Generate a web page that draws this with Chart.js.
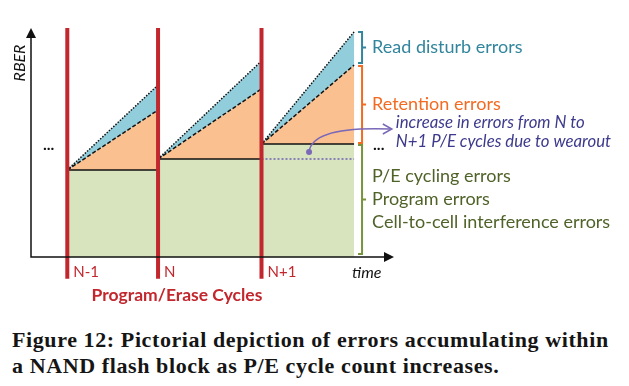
<!DOCTYPE html>
<html>
<head>
<meta charset="utf-8">
<script src="https://cdn.jsdelivr.net/npm/chart.js@4"></script>
<style>
  body { margin: 0; background: #fff; width: 629px; height: 386px; overflow: hidden; position: relative; }
  #chart { position: absolute; left: 0; top: 0; }
  .caption {
    position: absolute; left: 12px; top: 327px;
    font: bold 22px "Liberation Serif", serif; line-height: 26px; letter-spacing: 0.6px;
    color: #151515; white-space: nowrap;
  }
</style>
</head>
<body>
<canvas id="chart" width="629" height="315"></canvas>
<div class="caption">Figure 12: Pictorial depiction of errors accumulating within<br>a NAND flash block as P/E cycle count increases.</div>
<script>
// P/E cycle boundaries on the time axis
const cycleLabels = ['N-1', 'N', 'N+1'];
const cycleStart = [1.0, 3.5, 6.35];
const cycleEnd = [3.5, 6.35, 8.9];

// RBER levels (arbitrary units) per cycle
const baseErrors = [3.8, 4.28, 4.93];      // P/E cycling + program + cell-to-cell
const retentionTop = [6.42, 7.34, 8.38];   // + retention at end of cycle
const readDisturbTop = [7.51, 8.56, 9.83]; // + read disturb at end of cycle

const redLineRange = [-0.95, 10];
const wearoutDot = { x: 7.66, y: 4.59 };
const wearoutArrowEnd = { x: 9.94, y: 5.59 };
const bracketX = 9.12;

const RED = '#c1272d';
const datasets = [];

// red P/E cycle markers (on top)
cycleStart.forEach(x => {
  datasets.push({
    data: [{ x: x, y: redLineRange[0] }, { x: x, y: redLineRange[1] }],
    borderColor: RED, borderWidth: 4, clip: false, order: 0
  });
});

// wearout reference: previous cycle level carried into the last cycle
datasets.push({
  data: [{ x: cycleStart[2], y: baseErrors[1] }, { x: cycleEnd[2], y: baseErrors[1] }],
  borderColor: '#7060b4', borderWidth: 1.5, borderDash: [2, 2], order: 1
});

cycleStart.forEach((x0, i) => {
  const x1 = cycleEnd[i];
  // dotted read disturb edge
  datasets.push({
    data: [{ x: x0, y: baseErrors[i] }, { x: x1, y: readDisturbTop[i] }],
    borderColor: '#111', borderWidth: 1.5, borderDash: [1.5, 1.5], order: 2
  });
  // dashed retention edge
  datasets.push({
    data: [{ x: x0, y: baseErrors[i] }, { x: x1, y: retentionTop[i] }],
    borderColor: '#111', borderWidth: 1.5, borderDash: [4, 2], order: 2
  });
  // read disturb area
  datasets.push({
    data: [{ x: x0, y: baseErrors[i] }, { x: x1, y: readDisturbTop[i] }, { x: x1, y: retentionTop[i] }, { x: x0, y: baseErrors[i] }],
    borderWidth: 0, backgroundColor: '#92cddc', fill: 'shape', order: 4
  });
  // retention area
  datasets.push({
    data: [{ x: x0, y: baseErrors[i] }, { x: x1, y: retentionTop[i] }, { x: x1, y: baseErrors[i] }, { x: x0, y: baseErrors[i] }],
    borderWidth: 0, backgroundColor: '#fac090', fill: 'shape', order: 4
  });
});

// base errors: step area
const basePts = [];
cycleStart.forEach((x0, i) => {
  basePts.push({ x: x0, y: baseErrors[i] });
  basePts.push({ x: cycleEnd[i], y: baseErrors[i] });
});
datasets.push({
  data: basePts, borderColor: '#111', borderWidth: 1.5,
  backgroundColor: '#d7e4bd', fill: 'origin', order: 3
});

function arrowHead(ctx, x, y, dir) {
  ctx.beginPath();
  if (dir === 'up') {
    ctx.moveTo(x, y); ctx.lineTo(x - 5, y + 10); ctx.lineTo(x + 5, y + 10);
  } else {
    ctx.moveTo(x, y); ctx.lineTo(x - 10, y - 5); ctx.lineTo(x - 10, y + 5);
  }
  ctx.closePath();
  ctx.fill();
}

function bracket(ctx, x, yTop, yBot, color) {
  const mid = (yTop + yBot) / 2;
  ctx.strokeStyle = color;
  ctx.lineWidth = 2;
  ctx.beginPath();
  ctx.moveTo(x - 4, yTop); ctx.lineTo(x, yTop); ctx.lineTo(x, yBot); ctx.lineTo(x - 4, yBot);
  ctx.moveTo(x, mid); ctx.lineTo(x + 4, mid);
  ctx.stroke();
  return mid;
}

const annotations = {
  id: 'annotations',
  afterDatasetsDraw(chart) {
    const { ctx, scales: { x, y } } = chart;
    const ox = x.getPixelForValue(0), oy = y.getPixelForValue(0);
    const top = y.getPixelForValue(10), right = x.getPixelForValue(10);
    ctx.save();

    // axes
    ctx.strokeStyle = '#111'; ctx.fillStyle = '#111'; ctx.lineWidth = 1.5;
    ctx.beginPath();
    ctx.moveTo(ox, top + 6); ctx.lineTo(ox, oy); ctx.lineTo(right - 6, oy);
    ctx.stroke();
    arrowHead(ctx, ox, top, 'up');
    arrowHead(ctx, right, oy, 'right');

    // axis labels
    ctx.save();
    ctx.translate(ox - 11, 63);
    ctx.rotate(-Math.PI / 2);
    ctx.font = 'italic 16px Lato';
    ctx.textAlign = 'center'; ctx.textBaseline = 'middle';
    ctx.fillText('RBER', 0, 0);
    ctx.restore();

    ctx.textBaseline = 'middle';
    ctx.font = 'italic 16px Lato';
    ctx.textAlign = 'center';
    ctx.fillText('time', x.getPixelForValue(9.25), oy + 16);

    ctx.font = 'bold 16px Lato';
    ctx.textAlign = 'left';
    ctx.fillText('...', ox + 12, y.getPixelForValue(4.9));

    ctx.fillStyle = RED;
    ctx.font = '15px Lato';
    cycleStart.forEach((cx, i) => {
      ctx.fillText(cycleLabels[i], x.getPixelForValue(cx) + 6, oy + 15);
    });
    ctx.font = 'bold 17.5px Lato';
    ctx.textAlign = 'center';
    ctx.fillText('Program/Erase Cycles', 177, oy + 38);

    // brackets with their error labels
    const bx = x.getPixelForValue(bracketX);
    const last = 2;
    const tx = bx + 10;
    ctx.textAlign = 'left';
    ctx.font = '18px Lato';

    let m = bracket(ctx, bx, y.getPixelForValue(readDisturbTop[last]), y.getPixelForValue(retentionTop[last]) - 2, '#31859c');
    ctx.fillStyle = '#31859c';
    ctx.fillText('Read disturb errors', tx, m);

    m = bracket(ctx, bx, y.getPixelForValue(retentionTop[last]) + 1, y.getPixelForValue(baseErrors[last]) - 1, '#f26b21');
    ctx.fillStyle = '#f26b21';
    ctx.fillText('Retention errors', tx, m);

    m = bracket(ctx, bx, y.getPixelForValue(baseErrors[last]) + 1, oy - 3, '#77933c');
    ctx.fillStyle = '#4f6228';
    ctx.fillText('P/E cycling errors', tx, m - 23);
    ctx.fillText('Program errors', tx, m);
    ctx.fillText('Cell-to-cell interference errors', tx, m + 23);

    ctx.fillStyle = '#111';
    ctx.font = 'bold 16px Lato';
    ctx.fillText('...', tx + 1, y.getPixelForValue(baseErrors[last]) + 1);

    // wearout arrow
    const dx = x.getPixelForValue(wearoutDot.x), dy = y.getPixelForValue(wearoutDot.y);
    const ex = x.getPixelForValue(wearoutArrowEnd.x), ey = y.getPixelForValue(wearoutArrowEnd.y);
    ctx.strokeStyle = '#7a68b8'; ctx.fillStyle = '#7a68b8'; ctx.lineWidth = 1.5;
    ctx.beginPath();
    ctx.arc(dx, dy, 3, 0, Math.PI * 2);
    ctx.fill();
    ctx.beginPath();
    ctx.moveTo(dx, dy);
    ctx.bezierCurveTo(dx + 2, dy - 18, dx + 30, ey - 2, ex - 1, ey);
    ctx.stroke();
    ctx.beginPath();
    ctx.moveTo(ex - 9, ey - 5); ctx.lineTo(ex, ey); ctx.lineTo(ex - 9, ey + 5);
    ctx.stroke();

    ctx.fillStyle = '#3d3a8c';
    ctx.font = 'italic 16.8px Lato';
    ctx.fillText('increase in errors from N to', ex + 4, ey - 6);
    ctx.fillText('N+1 P/E cycles due to wearout', ex + 4, ey + 13);

    ctx.restore();
  }
};

new Chart(document.getElementById('chart'), {
  type: 'line',
  data: { datasets: datasets },
  options: {
    responsive: false,
    animation: false,
    events: [],
    layout: { padding: { left: 31, right: 235, top: 28, bottom: 58 } },
    elements: { point: { radius: 0 }, line: { tension: 0 } },
    plugins: { legend: { display: false }, tooltip: { enabled: false } },
    scales: {
      x: { type: 'linear', min: 0, max: 10, display: false },
      y: { type: 'linear', min: 0, max: 10, display: false }
    }
  },
  plugins: [annotations]
});
</script>
</body>
</html>
